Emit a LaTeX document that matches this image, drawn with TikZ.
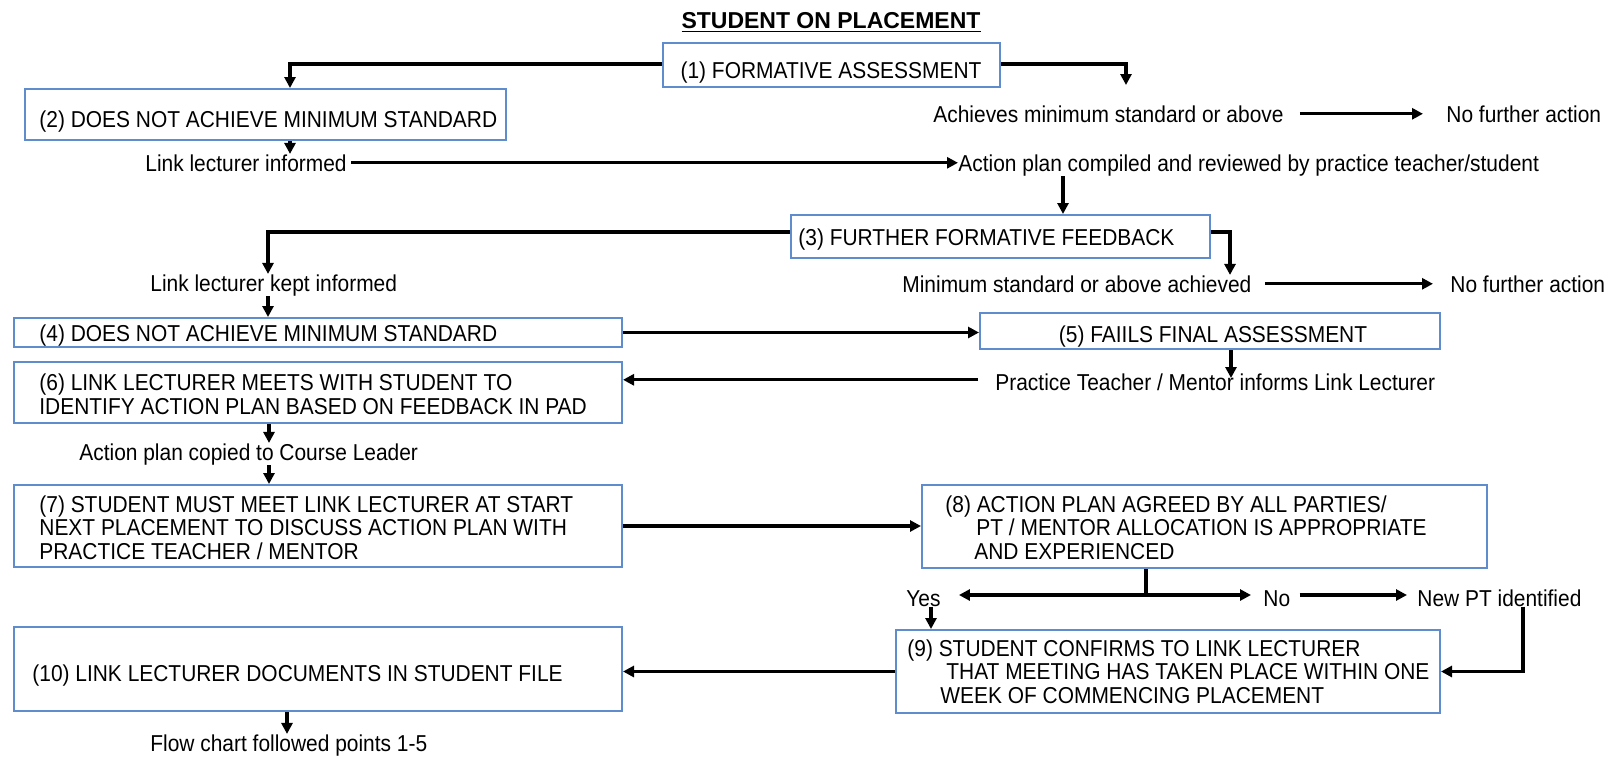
\documentclass[tikz,border=0pt]{standalone}
\usepackage{fontspec}
\setmainfont{Liberation Sans}[FakeStretch=0.91]
\newfontfamily\titlefont{Liberation Sans}
\usetikzlibrary{arrows.meta,calc}
\definecolor{boxblue}{RGB}{95,140,205}
\begin{document}
\begin{tikzpicture}[x=0.5pt,y=-0.5pt,
  box/.style={draw=boxblue,line width=1pt,inner sep=0pt},
  txt/.style={inner sep=0pt,font=\fontsize{11.5}{11.75}\selectfont,align=left},
  arr/.style={line width=1.7pt,-{Triangle[length=5.5pt,width=5.5pt]}},
  ln/.style={line width=1.7pt}]
\useasboundingbox (0,0) rectangle (1624,757);
% title
\node[inner sep=0pt,anchor=base,font=\titlefont\fontsize{11.5}{12}\selectfont\bfseries] (title) at (831,28) {\underline{STUDENT ON PLACEMENT}};
% boxes
\node[box,minimum width=168.5pt,minimum height=22pt] (b1) at (831.5,65) {};
\node[box,minimum width=240.5pt,minimum height=25.5pt] (b2) at (265.5,114.5) {};
\node[box,minimum width=209.5pt,minimum height=21.5pt] (b3) at (1000.5,236.5) {};
\node[box,minimum width=304pt,minimum height=14.5pt] (b4) at (318,332.5) {};
\node[box,minimum width=230pt,minimum height=18pt] (b5) at (1210,331) {};
\node[box,minimum width=304pt,minimum height=30.5pt] (b6) at (318,392.5) {};
\node[box,minimum width=304pt,minimum height=41pt] (b7) at (318,526) {};
\node[box,minimum width=282.5pt,minimum height=41.5pt] (b8) at (1204.5,526.5) {};
\node[box,minimum width=272pt,minimum height=41.5pt] (b9) at (1168,671.5) {};
\node[box,minimum width=304pt,minimum height=42pt] (b10) at (318,669) {};
% box texts (multi-line: base = baseline of last line)
\node[txt,anchor=base] (t1) at (831,78) {(1) FORMATIVE ASSESSMENT};
\node[txt,anchor=base west] (t2) at (39,127) {(2) DOES NOT ACHIEVE MINIMUM STANDARD};
\node[txt,anchor=base west] (t3) at (798,245) {(3) FURTHER FORMATIVE FEEDBACK};
\node[txt,anchor=base west] (t4) at (39,341) {(4) DOES NOT ACHIEVE MINIMUM STANDARD};
\node[txt,anchor=base] (t5) at (1213,342) {(5) FAIILS FINAL ASSESSMENT};
\node[txt,anchor=base west] (t6) at (39,414) {(6) LINK LECTURER MEETS WITH STUDENT TO\\IDENTIFY ACTION PLAN BASED ON FEEDBACK IN PAD};
\node[txt,anchor=base west] (t7) at (39,559) {(7) STUDENT MUST MEET LINK LECTURER AT START\\NEXT PLACEMENT TO DISCUSS ACTION PLAN WITH\\PRACTICE TEACHER / MENTOR};
\node[txt,anchor=base west] (t8) at (945,559) {(8) ACTION PLAN AGREED BY ALL PARTIES/\\\hspace*{15.5pt}PT / MENTOR ALLOCATION IS APPROPRIATE\\\hspace*{14.5pt}AND EXPERIENCED};
\node[txt,anchor=base west] (t9) at (907,703) {(9) STUDENT CONFIRMS TO LINK LECTURER\\\hspace*{19.5pt}THAT MEETING HAS TAKEN PLACE WITHIN ONE\\\hspace*{16.5pt}WEEK OF COMMENCING PLACEMENT};
\node[txt,anchor=base west] (t10) at (32,681) {(10) LINK LECTURER DOCUMENTS IN STUDENT FILE};
% free texts
\node[txt,anchor=base west] (achv) at (933,122) {Achieves minimum standard or above};
\node[txt,anchor=base west] (nfa1) at (1446,122) {No further action};
\node[txt,anchor=base west] (linkinf) at (145,171) {Link lecturer informed};
\node[txt,anchor=base west] (apc) at (958,171) {Action plan compiled and reviewed by practice teacher/student};
\node[txt,anchor=base west] (lki) at (150,291) {Link lecturer kept informed};
\node[txt,anchor=base west] (msa) at (902,292) {Minimum standard or above achieved};
\node[txt,anchor=base west] (nfa2) at (1450,292) {No further action};
\node[txt,anchor=base west] (ptm) at (995,390) {Practice Teacher / Mentor informs Link Lecturer};
\node[txt,anchor=base west] (apcl) at (79,460) {Action plan copied to Course Leader};
\node[txt,anchor=base west] (yes) at (906,606) {Yes};
\node[txt,anchor=base west] (no) at (1263,606) {No};
\node[txt,anchor=base west] (newpt) at (1417,606) {New PT identified};
\node[txt,anchor=base west] (fc) at (150,751) {Flow chart followed points 1-5};
% helper coordinates
\coordinate (x290) at (290,0);
\coordinate (achtop) at (1126,85);
\coordinate (x1063) at (1063,0);
\coordinate (x268) at (268,0);
\coordinate (x1230) at (1230,0);
\coordinate (ptmtip) at (1231,378);
\coordinate (x269) at (269,0);
\coordinate (split) at (1146,595);
\coordinate (x931) at (931,0);
\coordinate (x1523) at (1523,0);
\coordinate (x287) at (287,0);
% connectors
\draw[arr] ([yshift=0.5pt]b1.west) -| (b2.north -| x290);
\draw[arr] ([yshift=0.5pt]b1.east) -| (achtop);
\draw[arr,shorten <=8pt,shorten >=11.5pt] (achv.east) -- (achv.east -| nfa1.west);
\draw[arr] (b2.south -| x290) -- (linkinf.north -| x290);
\draw[arr,shorten <=2pt] (linkinf.east) -- (linkinf.east -| apc.west);
\draw[arr] (apc.south -| x1063) -- (b3.north -| x1063);
\draw[arr] ([yshift=2.25pt]b3.west) -| (lki.north -| x268);
\draw[arr] ([yshift=2.25pt]b3.east) -| (msa.north -| x1230);
\draw[arr,shorten <=6.5pt,shorten >=8.5pt] (msa.east) -- (msa.east -| nfa2.west);
\draw[arr] (lki.south -| x268) -- (b4.north -| x268);
\draw[arr] (b4.east) -- (b4.east -| b5.west);
\draw[arr] (b5.south -| ptmtip) -- (ptmtip);
\draw[arr,shorten <=8.5pt] ([yshift=1pt]ptm.west) -- ([yshift=1pt]ptm.west -| b6.east);
\draw[arr] (b6.south -| x269) -- (apcl.north -| x269);
\draw[arr] (apcl.south -| x269) -- (b7.north -| x269);
\draw[arr] (b7.east) -- (b7.east -| b8.west);
\draw[ln] (b8.south -| split) -- (split);
\draw[arr,shorten >=9pt] (split) -- (split -| yes.east);
\draw[arr,shorten >=6pt] (split) -- (split -| no.west);
\draw[arr,shorten <=4.5pt,shorten >=5pt] (no.east |- split) -- (split -| newpt.west);
\draw[arr] (yes.south -| x931) -- (b9.north -| x931);
\draw[arr] (newpt.south -| x1523) |- (b9.east);
\draw[arr] (b9.west) -- (b9.west -| b10.east);
\draw[arr] (b10.south -| x287) -- (fc.north -| x287);
\end{tikzpicture}
\end{document}
